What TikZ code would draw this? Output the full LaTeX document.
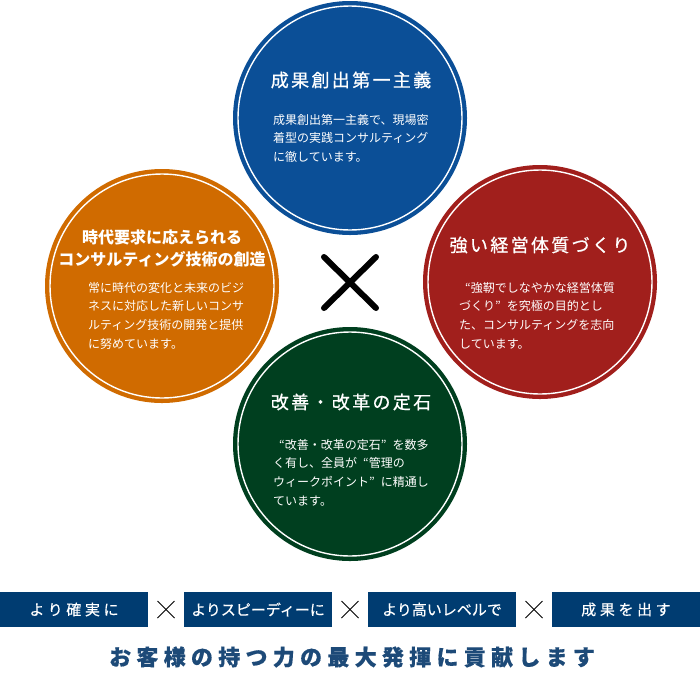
\documentclass[tikz,border=0pt]{standalone}
\usepackage{fontspec}
\newfontfamily\jp{Noto Sans CJK JP}
\newfontfamily\jpesp[LetterSpace=13,FakeBold=0.7]{Noto Sans CJK JP}
\newfontfamily\jpmeio[FakeBold=0.4]{Noto Sans CJK JP}
\newfontfamily\jplargo[LetterSpace=24,FakeBold=0.4]{Noto Sans CJK JP}

\definecolor{azul}{HTML}{0B4F97}
\definecolor{laranja}{HTML}{D06B00}
\definecolor{vermelho}{HTML}{A11F1C}
\definecolor{verde}{HTML}{003F1F}
\definecolor{faixa}{HTML}{003C71}
\definecolor{lema}{HTML}{1D4A78}

\tikzset{
	bola/.style={circle,fill=#1,minimum size=234pt,inner sep=0pt},
	anel/.style={draw=white,line width=1.4pt},
	titulo/.style={text=white,font=\jpesp\fontsize{18}{22}\selectfont,inner sep=0pt},
	corpo/.style={text=white,font=\jp\fontsize{12}{18.6}\selectfont,align=left,inner sep=0pt,anchor=north west},
	caixa/.style={fill=faixa,text=white,minimum width=148pt,minimum height=35pt,inner sep=0pt,font=\jpmeio\fontsize{15}{18}\selectfont}
}

\begin{document}
\begin{tikzpicture}[x=1pt,y=-1pt]
	
	\def\raio{117};
	\def\raioanel{112};
	\def\aspa{\hspace{6pt}};
	
	\useasboundingbox (0,0) rectangle (700,675);
	
	% os quatro circulos
	\node[bola=azul] (topo) at (350,118) {};
	\node[bola=laranja] (esq) at (162,286) {};
	\node[bola=vermelho] (dir) at (540,282) {};
	\node[bola=verde] (baixo) at (350,444) {};
	
	\foreach \b in {topo,esq,dir,baixo}
		\draw[anel] (\b.center) circle (\raioanel);
	
	% o X grande
	\draw[line width=6pt,line cap=round] (324,257) -- (376,308);
	\draw[line width=6pt,line cap=round] (324,308) -- (376,257);
	
	\node[titulo] (topo-titulo) at (351,80) {成果創出第一主義};
	\node[corpo] (topo-texto) at (273,114) {成果創出第一主義で、現場密\\着型の実践コンサルティング\\に徹しています。};
	
	\node[titulo,font=\jp\bfseries\fontsize{16}{22}\selectfont,align=center] (esq-titulo) at (162,248) {時代要求に応えられる\\コンサルティング技術の創造};
	\node[corpo] (esq-texto) at (88,282) {常に時代の変化と未来のビジ\\ネスに対応した新しいコンサ\\ルティング技術の開発と提供\\に努めています。};
	
	\node[titulo] (dir-titulo) at (540,245) {強い経営体質づくり};
	\node[corpo] (dir-texto) at (459,282) {\aspa“強靭でしなやかな経営体質\\づくり”\aspa を究極の目的とし\\た、コンサルティングを志向\\しています。};
	
	\node[titulo] (baixo-titulo) at (351,402) {改善・改革の定石};
	\node[corpo] (baixo-texto) at (273,439) {\aspa“改善・改革の定石”\aspa を数多\\く有し、全員が\aspa“管理の\\ウィークポイント”\aspa に精通し\\ています。};
	
	% faixa de baixo
	\node[caixa,font=\jplargo\fontsize{15}{18}\selectfont] (c1) at (74,609.5) {より確実に};
	\node[caixa] (c2) at (258,609.5) {よりスピーディーに};
	\node[caixa] (c3) at (442,609.5) {より高いレベルで};
	\node[caixa,font=\jplargo\fontsize{15}{18}\selectfont] (c4) at (626,609.5) {成果を出す};
	
	\foreach \xx in {166,350,534}{
		\draw[line width=0.8pt] (\xx-8.5,601) -- (\xx+8.5,618);
		\draw[line width=0.8pt] (\xx-8.5,618) -- (\xx+8.5,601);
	}
	
	\node[text=lema,font=\jplargo\bfseries\fontsize{22}{26}\selectfont,inner sep=0pt] (lema) at (352,657) {お客様の持つ力の最大発揮に貢献します};
	
\end{tikzpicture}
\end{document}
